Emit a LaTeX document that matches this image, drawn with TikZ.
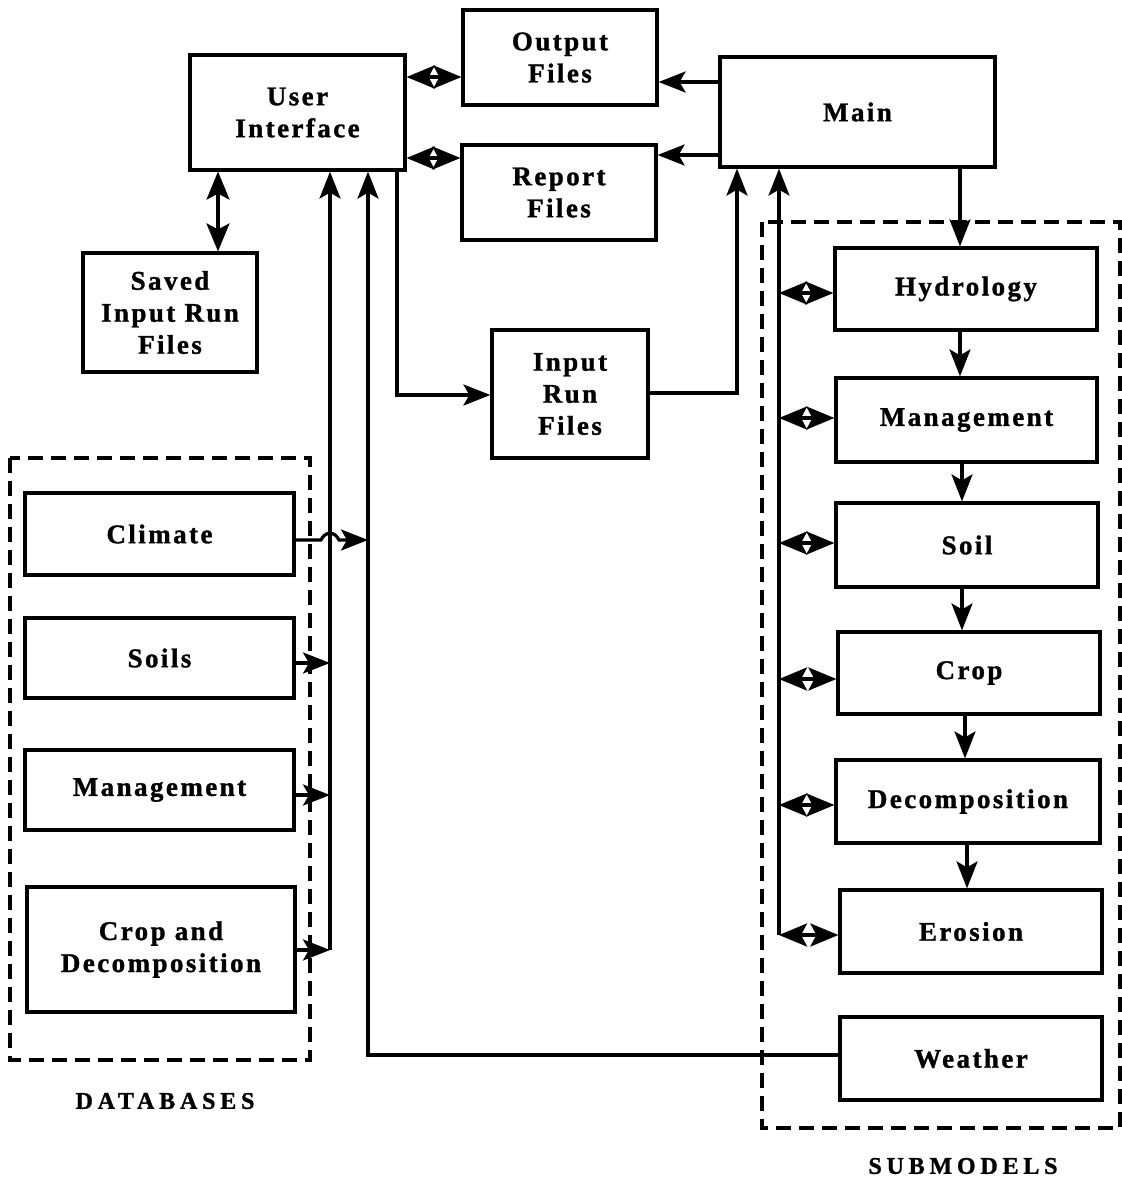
\documentclass[tikz,border=0pt]{standalone}
\usepackage{fontspec}
\setmainfont{Liberation Serif}
\usetikzlibrary{arrows.meta}
\newcommand\boxfont{\fontsize{27}{32}\selectfont\bfseries\addfontfeature{LetterSpace=9,FakeBold=1.2}}
\newcommand\capfont{\fontsize{24}{28}\selectfont\bfseries\addfontfeature{LetterSpace=20,FakeBold=1.2}}
\begin{document}
\begin{tikzpicture}[x=1pt,y=-1pt,
  box/.style={draw, line width=3.2pt, inner sep=0pt, align=center, font=\boxfont},
  conn/.style={line width=3.2pt, -{Stealth[length=27pt,width=21pt,inset=6pt]}},
  dbl/.style={line width=3.2pt, {Stealth[length=28pt,width=23pt,inset=6pt]}-{Stealth[length=28pt,width=23pt,inset=6pt]}},
  dashbox/.style={draw, line width=3.4pt, dash pattern=on 15pt off 8pt},
  grouplabel/.style={font=\capfont}]
\useasboundingbox (0,0) rectangle (1122,1181);
\fill[white] (0,0) rectangle (1122,1181);

% top boxes
\node[box, minimum width=215pt, minimum height=115pt] (ui) at (297.5,112.5) {User\\Interface};
\node[box, minimum width=194pt, minimum height=95pt] (out) at (560,57.5) {Output\\Files};
\node[box, minimum width=194pt, minimum height=95pt] (rep) at (559,192.5) {Report\\Files};
\node[box, minimum width=275pt, minimum height=110pt] (main) at (857.5,112) {Main};
\node[box, minimum width=174pt, minimum height=119pt] (saved) at (170,312.5) {Saved\\Input Run\\Files};
\node[box, minimum width=156pt, minimum height=128pt] (inp) at (570,394) {Input\\Run\\Files};

% databases
\draw[dashbox] (10,458) rectangle (310,1060);
\node[box, minimum width=269pt, minimum height=82pt] (climate) at (159.5,534) {Climate};
\node[box, minimum width=269pt, minimum height=80pt] (soils) at (159.5,658) {Soils};
\node[box, minimum width=269pt, minimum height=80pt] (mgmtdb) at (159.5,790) {Management};
\node[box, minimum width=268pt, minimum height=125pt] (cropdb) at (161,949.5) {Crop and\\Decomposition};
\node[grouplabel] (dblabel) at (165,1101) {DATABASES};

% submodels
\draw[dashbox] (762,222) rectangle (1120,1128);
\node[box, minimum width=262pt, minimum height=82pt] (hyd) at (966,289) {Hydrology};
\node[box, minimum width=261pt, minimum height=84pt] (mgmt) at (966.5,420) {Management};
\node[box, minimum width=262pt, minimum height=84pt] (soil) at (967,545) {Soil};
\node[box, minimum width=262pt, minimum height=82pt] (crop) at (969,673) {Crop};
\node[box, minimum width=264pt, minimum height=83pt] (decomp) at (968,801.5) {Decomposition};
\node[box, minimum width=262pt, minimum height=83pt] (erosion) at (971,931.5) {Erosion};
\node[box, minimum width=262pt, minimum height=83pt] (weather) at (971,1058.5) {Weather};
\node[grouplabel] (smlabel) at (963,1166) {SUBMODELS};

% top connectors
\draw[dbl] (ui.east |- 0,77) -- (out.west |- 0,77);
\draw[dbl] (ui.east |- 0,158) -- (rep.west |- 0,158);
\draw[conn] (main.west |- 0,82) -- (out.east |- 0,82);
\draw[conn] (main.west |- 0,155) -- (rep.east |- 0,155);
\draw[dbl] (ui.south -| 218,0) -- (saved.north -| 218,0);

% database bus
\coordinate (b1) at (330,950);
\draw[conn] (cropdb.east |- 0,950) -- (b1);
\draw[conn] (soils.east |- 0,663) -- (330,663);
\draw[conn] (mgmtdb.east |- 0,795) -- (330,795);
\draw[conn] (b1) -- (ui.south -| 330,0);
\draw[conn] (climate.east |- 0,540) -- (321,540) .. controls (325,531) and (335,531) .. (339,540) -- (368,540);

% weather line
\coordinate (w1) at (368,1055);
\draw[conn] (weather.west |- 0,1055) -- (w1) -- (ui.south -| 368,0);

% input run files
\draw[conn] (ui.south -| 397,0) -- (397,395) -- (inp.west |- 0,395);
\draw[conn] (inp.east |- 0,393) -- (737,393) -- (main.south -| 737,0);

% submodel bus
\coordinate (s1) at (779,935);
\draw[conn] (s1) -- (main.south -| 779,0);
\draw[dbl] (779,293) -- (hyd.west |- 0,293);
\draw[dbl] (779,418) -- (mgmt.west |- 0,418);
\draw[dbl] (779,543) -- (soil.west |- 0,543);
\draw[dbl] (779,679) -- (crop.west |- 0,679);
\draw[dbl] (779,805) -- (decomp.west |- 0,805);
\draw[dbl] (s1) -- (erosion.west |- 0,935);

% chain
\draw[conn] (main.south -| 960,0) -- (hyd.north -| 960,0);
\draw[conn] (hyd.south -| 960,0) -- (mgmt.north -| 960,0);
\draw[conn] (mgmt.south -| 962,0) -- (soil.north -| 962,0);
\draw[conn] (soil.south -| 962,0) -- (crop.north -| 962,0);
\draw[conn] (crop.south -| 965,0) -- (decomp.north -| 965,0);
\draw[conn] (decomp.south -| 967,0) -- (erosion.north -| 967,0);
\end{tikzpicture}
\end{document}
